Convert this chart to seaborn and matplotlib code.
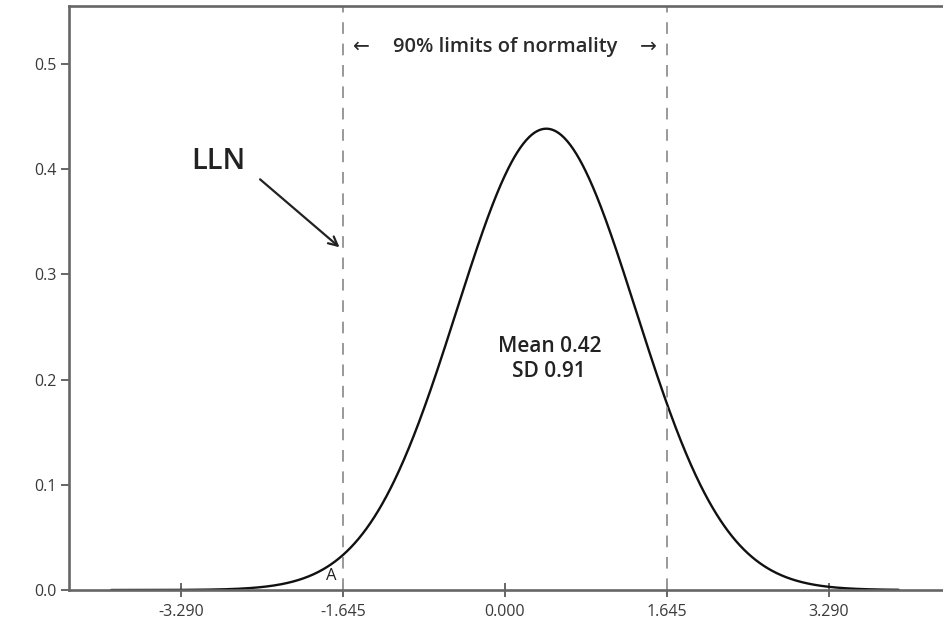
import numpy as np
import pandas as pd
import matplotlib
matplotlib.use("Agg")
import matplotlib.pyplot as plt
import seaborn as sns

# distribution shown in the chart
mean = 0.42
sd = 0.91
x_range = [-4.0, 4.0]

# limits of normality (5th / 95th percentile of standard normal)
limits = [-1.645, 1.645]
x_ticks = [-3.290, -1.645, 0.000, 1.645, 3.290]
x_tick_labels = ["-3.290", "-1.645", "0.000", "1.645", "3.290"]
y_ticks = [0.0, 0.1, 0.2, 0.3, 0.4, 0.5]
y_tick_labels = ["0.0", "0.1", "0.2", "0.3", "0.4", "0.5"]

xs = np.linspace(x_range[0], x_range[1], 800)
df = pd.DataFrame({"x": xs,
                   "density": np.exp(-0.5 * ((xs - mean) / sd) ** 2) / (sd * np.sqrt(2 * np.pi))})

sns.set_style("ticks")
plt.rcParams["font.family"] = ["Open Sans", "DejaVu Sans"]

fig = plt.figure(figsize=(9.43, 6.27), dpi=100)
ax = fig.add_axes([69 / 943, 1 - 590 / 627, 1 - 69 / 943 + 0.002, (590 - 6) / 627])

sns.lineplot(data=df, x="x", y="density", ax=ax, color="#111111", linewidth=1.7)

for lim in limits:
    ax.axvline(lim, color="#999999", linestyle=(0, (6, 5)), linewidth=1.4)

ax.set_xlim(-4.43, 4.47)
ax.set_ylim(0, 0.555)
ax.set_xticks(x_ticks)
ax.set_xticklabels(x_tick_labels)
ax.set_yticks(y_ticks)
ax.set_yticklabels(y_tick_labels)
ax.set_xlabel("")
ax.set_ylabel("")

ax.spines["right"].set_visible(False)
for s in ["left", "top", "bottom"]:
    ax.spines[s].set_color("#666666")
    ax.spines[s].set_linewidth(1.9)
ax.tick_params(axis="x", direction="inout", length=10, width=1.4, color="#666666",
               labelsize=11.5, labelcolor="#3a3a3a", pad=5)
ax.tick_params(axis="y", direction="out", length=6, width=1.4, color="#666666",
               labelsize=11.5, labelcolor="#3a3a3a", pad=3)

# limits label: arrows placed near the dashed lines, text centred between them
ax.text(0.0, 0.516, "90% limits of normality", ha="center", va="center",
        fontsize=14.5, fontweight="semibold", color="#2a2a2a")
ax.text(limits[0] + 0.1, 0.516, "\u2190", ha="left", va="center",
        fontsize=14.5, color="#2a2a2a")
ax.text(limits[1] - 0.1, 0.516, "\u2192", ha="right", va="center",
        fontsize=14.5, color="#2a2a2a")
ax.text(0.45, 0.22, "Mean 0.42\nSD 0.91", ha="center", va="center",
        fontsize=15, fontweight="semibold", color="#222222", linespacing=1.25)
ax.annotate("", xy=(-1.66, 0.324), xytext=(-2.51, 0.392),
            arrowprops=dict(arrowstyle="->", color="#222222", lw=1.6, mutation_scale=16))
ax.text(-2.91, 0.407, "LLN", ha="center", va="center", fontsize=21,
        fontweight="semibold", color="#222222")
ax.text(-1.77, 0.013, "A", ha="center", va="center", fontsize=12, color="#222222")

fig.savefig("out.png", dpi=100)
